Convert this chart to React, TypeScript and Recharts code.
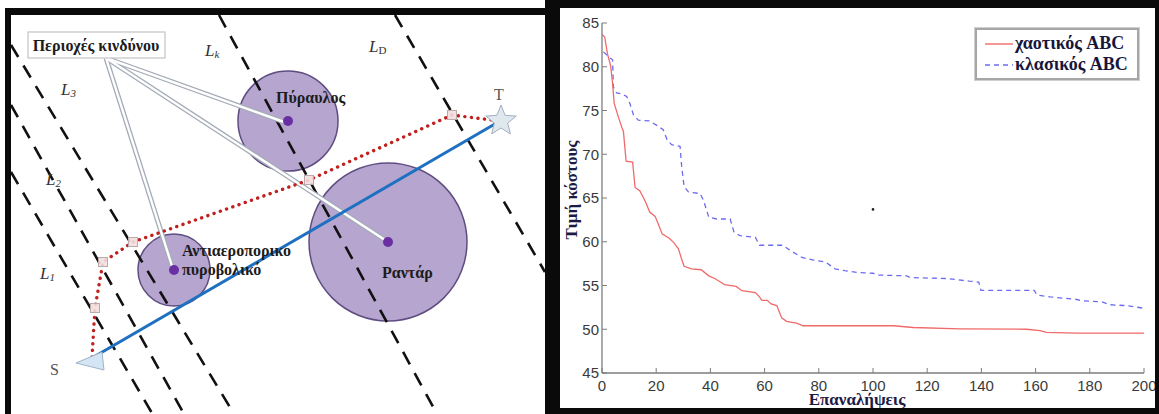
import React from 'react';
import {
  ComposedChart,
  LineChart,
  Line,
  XAxis,
  YAxis,
  ReferenceLine,
  ReferenceDot,
  Scatter,
  Legend,
} from 'recharts';

// ---------------- Right panel: convergence curves ----------------
const chaoticIter = [0, 1, 2, 3.2, 3.9, 4.5, 6, 7.3, 7.9, 8.9, 11.3, 12.2, 14, 15, 16, 17.6, 19.6, 20.8, 22.2, 24.8, 26.5, 28.2, 29.4, 30.3, 33, 36.6, 39.4, 41.6, 43.7, 45.2, 49.5, 51.6, 56.6, 58.1, 59, 61, 62.4, 64.5, 66.3, 68.1, 71.8, 74.2, 107.5, 114.9, 132, 156.7, 161.6, 164, 175, 200];
const chaoticCost = [83.7, 83.4, 81.5, 80.1, 78.1, 75.8, 74.3, 73.1, 72.6, 69.2, 69.1, 66.2, 65.8, 65.2, 64.6, 63.4, 62.9, 62.0, 60.9, 60.4, 59.9, 59.2, 58.0, 57.2, 56.9, 56.8, 56.1, 55.8, 55.4, 55.1, 54.9, 54.4, 54.2, 53.7, 53.3, 53.3, 52.9, 52.7, 51.3, 50.9, 50.7, 50.4, 50.4, 50.2, 50.05, 50.0, 49.85, 49.65, 49.55, 49.55];
const classicIter = [0.5, 2, 3, 3.9, 4.2, 5.4, 7.3, 9.1, 10.3, 11.6, 13.4, 17.7, 20.2, 22.6, 24.1, 25.7, 28.8, 29.4, 30.3, 31.9, 36.2, 37.5, 39.4, 42.3, 47.3, 48.7, 50.9, 56.6, 58.1, 66.7, 69.5, 73.8, 78.1, 82.4, 86, 89.6, 93.9, 100, 101.5, 112.5, 113.7, 127.2, 135.5, 139, 139.8, 159.5, 160.5, 165.3, 175.2, 177, 184.2, 187.5, 193.6, 200];
const classicCost = [81.7, 81.3, 81.0, 80.8, 77.7, 77.0, 76.9, 76.6, 75.8, 74.5, 73.9, 73.8, 73.3, 72.8, 71.6, 71.1, 70.9, 68.6, 66.3, 65.7, 65.5, 64.7, 62.8, 62.6, 62.6, 61.1, 60.7, 60.5, 59.6, 59.6, 59.0, 58.2, 57.9, 57.7, 56.9, 56.7, 56.5, 56.4, 56.2, 56.1, 55.9, 55.8, 55.5, 55.4, 54.45, 54.45, 53.9, 53.7, 53.4, 53.25, 53.15, 52.8, 52.7, 52.4];
const xTicks = [0, 20, 40, 60, 80, 100, 120, 140, 160, 180, 200];
const yTicks = [45, 50, 55, 60, 65, 70, 75, 80, 85];
const seriesNames = ['χαοτικός ABC', 'κλασικός ABC'];
const xAxisTitle = 'Επαναλήψεις';
const yAxisTitle = 'Τιμή κόστους';
const strayMark = { x: 100, y: 63.7 };

// ---------------- Left panel: scenario diagram ----------------
const threatX = [288, 388, 174];
const threatY = [121, 242, 270];
const threatR = [50, 79, 36];

// dashed lines L1, L2, L3, Lk, LD (scene units)
const dashX1 = [11, 11, 11, 219, 395];
const dashY1 = [172, 105, 45, 15, 15];
const dashX2 = [152.5, 184, 234, 437, 545];
const dashY2 = [414, 414, 414, 414, 272];

const pathX = [92, 95, 103, 133, 309, 452, 500];
const pathY = [357, 308, 262, 242, 180, 115, 121];

const startPt = { x: 92, y: 358 };
const targetPt = { x: 500, y: 121 };

const calloutFrom = { x: 106, y: 58 };
const calloutToX = [284, 385, 172];
const calloutToY = [122, 240, 266];

const sceneTexts = [
  { x: 276, y: 97, text: 'Πύραυλος', kind: 'bold' },
  { x: 182, y: 250, text: 'Αντιαεροπορικο', kind: 'bold' },
  { x: 182, y: 269, text: 'πυροβολικό', kind: 'bold' },
  { x: 382, y: 272, text: 'Ραντάρ', kind: 'bold' },
  { x: 50, y: 369, text: 'S', kind: 'plain' },
  { x: 494, y: 94, text: 'T', kind: 'plain' },
];
const lineLabels = [
  { x: 40, y: 273, main: 'L', sub: '1' },
  { x: 46, y: 179, main: 'L', sub: '2' },
  { x: 61, y: 89, main: 'L', sub: '3' },
  { x: 205, y: 50, main: 'L', sub: 'k' },
  { x: 369, y: 46, main: 'L', sub: 'D' },
];
const boxLabel = { x: 96, y: 45, text: 'Περιοχές κινδύνου' };

const SERIF = '"Liberation Serif", "Times New Roman", serif';
const SANS = '"Liberation Sans", Arial, sans-serif';
const RED = '#f06a6a';
const BLUE = '#6b6bf2';

const chaoticData = chaoticIter.map((x, i) => ({ x, y: chaoticCost[i] }));
const classicData = classicIter.map((x, i) => ({ x, y: classicCost[i] }));
const pathData = pathX.map((x, i) => ({ x, y: pathY[i] }));
const waypointData = pathData.slice(1, pathData.length - 1);

const renderLegend = () => (
  <div
    style={{
      width: 164,
      height: 52,
      boxSizing: 'border-box',
      border: '2px solid #a6a6a6',
      outline: '1px solid #d0d0d0',
      background: '#fff',
      paddingTop: 3,
    }}
  >
    {seriesNames.map((name, i) => (
      <div key={name} style={{ display: 'flex', alignItems: 'center', height: 21 }}>
        <svg width={38} height={10} style={{ flex: 'none' }}>
          <line
            x1={8}
            x2={36}
            y1={5}
            y2={5}
            stroke={i === 0 ? RED : BLUE}
            strokeWidth={1.4}
            strokeDasharray={i === 0 ? undefined : '5 4'}
          />
        </svg>
        <span
          style={{
            fontFamily: SERIF,
            fontWeight: 'bold',
            fontSize: 18,
            color: '#16163c',
            whiteSpace: 'nowrap',
            lineHeight: '21px',
          }}
        >
          {name}
        </span>
      </div>
    ))}
  </div>
);

const starPoints = (cx: number, cy: number, ro: number, ri: number) => {
  const pts: string[] = [];
  for (let k = 0; k < 10; k++) {
    const a = -Math.PI / 2 + (k * Math.PI) / 5;
    const r = k % 2 === 0 ? ro : ri;
    pts.push(`${cx + r * Math.cos(a)},${cy + r * Math.sin(a)}`);
  }
  return pts.join(' ');
};

const LeftDiagram = () => (
  <ComposedChart width={545} height={414} margin={{ top: 0, right: 0, bottom: 0, left: 0 }} data={[]}>
    <XAxis type="number" dataKey="x" domain={[0, 545]} allowDataOverflow hide />
    <YAxis type="number" dataKey="y" domain={[0, 414]} reversed allowDataOverflow hide />
    {threatX.map((x, i) => (
      <ReferenceDot
        key={'c' + i}
        x={x}
        y={threatY[i]}
        r={threatR[i]}
        fill="#b5a5cf"
        stroke="#5e4d80"
        strokeWidth={1.5}
        zIndex={100}
      />
    ))}
    {dashX1.map((x, i) => (
      <ReferenceLine
        key={'d' + i}
        segment={[
          { x, y: dashY1[i] },
          { x: dashX2[i], y: dashY2[i] },
        ]}
        stroke="#111"
        strokeWidth={2.6}
        strokeDasharray="14 10"
        ifOverflow="visible"
        zIndex={200}
      />
    ))}
    {calloutToX.map((x, i) => (
      <ReferenceLine
        key={'co' + i}
        segment={[calloutFrom, { x, y: calloutToY[i] }]}
        stroke="#a5acb8"
        strokeWidth={5}
        ifOverflow="visible"
        zIndex={300}
      />
    ))}
    {calloutToX.map((x, i) => (
      <ReferenceLine
        key={'ci' + i}
        segment={[calloutFrom, { x, y: calloutToY[i] }]}
        stroke="#ffffff"
        strokeWidth={2.4}
        ifOverflow="visible"
        zIndex={310}
      />
    ))}
    {threatX.map((x, i) => (
      <ReferenceDot key={'p' + i} x={x} y={threatY[i]} r={5} fill="#6a2fa2" stroke="none" zIndex={320} />
    ))}
    <ReferenceLine
      segment={[startPt, targetPt]}
      stroke="#1f70c0"
      strokeWidth={3}
      ifOverflow="visible"
      zIndex={400}
    />
    <Line
      data={pathData}
      dataKey="y"
      type="linear"
      stroke="#c0201e"
      strokeWidth={3.4}
      strokeDasharray="0.1 6.5"
      strokeLinecap="round"
      dot={false}
      isAnimationActive={false}
      zIndex={500}
    />
    <Scatter
      data={waypointData}
      isAnimationActive={false}
      zIndex={600}
      shape={(p: any) => (
        <rect x={p.cx - 4.5} y={p.cy - 4.5} width={9} height={9} fill="#f3dede" stroke="#b9a9a9" strokeWidth={1} fillOpacity={0.9} />
      )}
    />
    <Scatter
      data={[startPt]}
      isAnimationActive={false}
      zIndex={700}
      shape={(p: any) => (
        <polygon
          points={`${p.cx - 16},${p.cy + 5} ${p.cx + 10},${p.cy - 6} ${p.cx + 12},${p.cy + 12}`}
          fill="#d4e6f6"
          stroke="#9fb4c8"
          strokeWidth={1}
        />
      )}
    />
    <Scatter
      data={[targetPt]}
      isAnimationActive={false}
      zIndex={700}
      shape={(p: any) => (
        <polygon points={starPoints(p.cx + 1, p.cy, 16, 7)} fill="#dfe7ef" stroke="#a3afbd" strokeWidth={1} />
      )}
    />
    <Scatter
      data={sceneTexts}
      isAnimationActive={false}
      zIndex={800}
      shape={(p: any) => (
        <text
          x={p.cx}
          y={p.cy}
          dominantBaseline="central"
          fontFamily={SERIF}
          fontWeight={p.payload.kind === 'bold' ? 'bold' : 'normal'}
          fontSize={16}
          fill={p.payload.kind === 'bold' ? '#1c1c1c' : '#555'}
        >
          {p.payload.text}
        </text>
      )}
    />
    <Scatter
      data={lineLabels}
      isAnimationActive={false}
      zIndex={800}
      shape={(p: any) => (
        <text x={p.cx} y={p.cy} dominantBaseline="central" fontFamily={SERIF} fill="#333" fontSize={17}>
          <tspan fontStyle="italic">{p.payload.main}</tspan>
          <tspan dy={4} fontSize={11} fontStyle={p.payload.sub === 'D' ? 'normal' : 'italic'}>
            {p.payload.sub}
          </tspan>
        </text>
      )}
    />
    <Scatter
      data={[boxLabel]}
      isAnimationActive={false}
      zIndex={900}
      shape={(p: any) => (
        <g>
          <rect x={p.cx - 68} y={p.cy - 13} width={137} height={26} fill="#fff" stroke="#c4c4c4" strokeWidth={1.2} />
          <text
            x={p.cx}
            y={p.cy}
            textAnchor="middle"
            dominantBaseline="central"
            fontFamily={SERIF}
            fontWeight="bold"
            fontSize={16}
            fill="#1c1c1c"
          >
            {p.payload.text}
          </text>
        </g>
      )}
    />
  </ComposedChart>
);

const axisStroke = '#7d7d7d';
const tickStyle = { fill: '#3a3a3a', fontSize: 15, fontFamily: SANS };

const RightChart = () => (
  <LineChart width={595} height={400} margin={{ top: 15, right: 11, bottom: 0, left: 0 }}>
    <XAxis
      type="number"
      dataKey="x"
      domain={[0, 200]}
      ticks={xTicks}
      allowDataOverflow
      height={35}
      interval={0}
      tickSize={-5}
      tickMargin={12}
      tick={tickStyle}
      axisLine={{ stroke: axisStroke, strokeWidth: 1.3 }}
      tickLine={{ stroke: axisStroke }}
      label={(p: any) => {
        const vb = p.viewBox;
        return (
          <text
            x={vb.x + vb.width / 2 - 16}
            y={vb.y + 26}
            textAnchor="middle"
            dominantBaseline="central"
            fontFamily={SERIF}
            fontWeight="bold"
            fontSize={17}
            fill="#1b1b45"
          >
            {xAxisTitle}
          </text>
        );
      }}
    />
    <XAxis
      xAxisId="top"
      orientation="top"
      type="number"
      domain={[0, 200]}
      ticks={xTicks}
      allowDataOverflow
      height={0}
      interval={0}
      tickSize={-5}
      tick={false}
      axisLine={{ stroke: axisStroke, strokeWidth: 1.3 }}
      tickLine={{ stroke: axisStroke }}
    />
    <YAxis
      type="number"
      domain={[45, 85]}
      ticks={yTicks}
      allowDataOverflow
      width={42}
      interval={0}
      tickSize={-5}
      tickMargin={8}
      tick={tickStyle}
      axisLine={{ stroke: axisStroke, strokeWidth: 1.3 }}
      tickLine={{ stroke: axisStroke }}
      label={(p: any) => {
        const vb = p.viewBox;
        const cx = vb.x + 11;
        const cy = vb.y + vb.height / 2 - 8;
        return (
          <text
            x={cx}
            y={cy}
            textAnchor="middle"
            dominantBaseline="central"
            transform={`rotate(-90 ${cx} ${cy})`}
            fontFamily={SERIF}
            fontWeight="bold"
            fontSize={17}
            fill="#1b1b45"
          >
            {yAxisTitle}
          </text>
        );
      }}
    />
    <YAxis
      yAxisId="right"
      orientation="right"
      type="number"
      domain={[45, 85]}
      ticks={yTicks}
      allowDataOverflow
      width={0}
      interval={0}
      tickSize={-5}
      tick={false}
      axisLine={{ stroke: axisStroke, strokeWidth: 1.3 }}
      tickLine={{ stroke: axisStroke }}
    />
    <Line
      name={seriesNames[1]}
      data={classicData}
      dataKey="y"
      type="linear"
      stroke={BLUE}
      strokeWidth={1.3}
      strokeDasharray="5 4"
      dot={false}
      isAnimationActive={false}
    />
    <Line
      name={seriesNames[0]}
      data={chaoticData}
      dataKey="y"
      type="linear"
      stroke={RED}
      strokeWidth={1.3}
      dot={false}
      isAnimationActive={false}
    />
    <ReferenceDot x={strayMark.x} y={strayMark.y} r={1.3} fill="#222" stroke="none" />
    <Legend
      layout="vertical"
      align="center"
      verticalAlign="middle"
      content={renderLegend}
      wrapperStyle={{ position: 'absolute', left: 415, top: 20, width: 164, height: 52 }}
    />
  </LineChart>
);

export default function App() {
  return (
    <div style={{ position: 'absolute', left: 0, top: 0, width: 1159, height: 414, background: '#fff', overflow: 'hidden' }}>
      <div style={{ position: 'absolute', left: 0, top: 0, width: 545, height: 414 }}>
        <LeftDiagram />
      </div>
      <div style={{ position: 'absolute', left: 560, top: 8, width: 595, height: 400 }}>
        <RightChart />
      </div>
      {/* frames */}
      <div style={{ position: 'absolute', left: 5, top: 8, width: 545, height: 7, background: '#0a0a0a' }} />
      <div style={{ position: 'absolute', left: 5, top: 8, width: 6, height: 406, background: '#0a0a0a' }} />
      <div style={{ position: 'absolute', left: 545, top: 0, width: 614, height: 8, background: '#0a0a0a' }} />
      <div style={{ position: 'absolute', left: 545, top: 0, width: 15, height: 414, background: '#0a0a0a' }} />
      <div style={{ position: 'absolute', left: 1155, top: 0, width: 4, height: 414, background: '#0a0a0a' }} />
      <div style={{ position: 'absolute', left: 545, top: 408, width: 614, height: 6, background: '#0a0a0a' }} />
    </div>
  );
}
